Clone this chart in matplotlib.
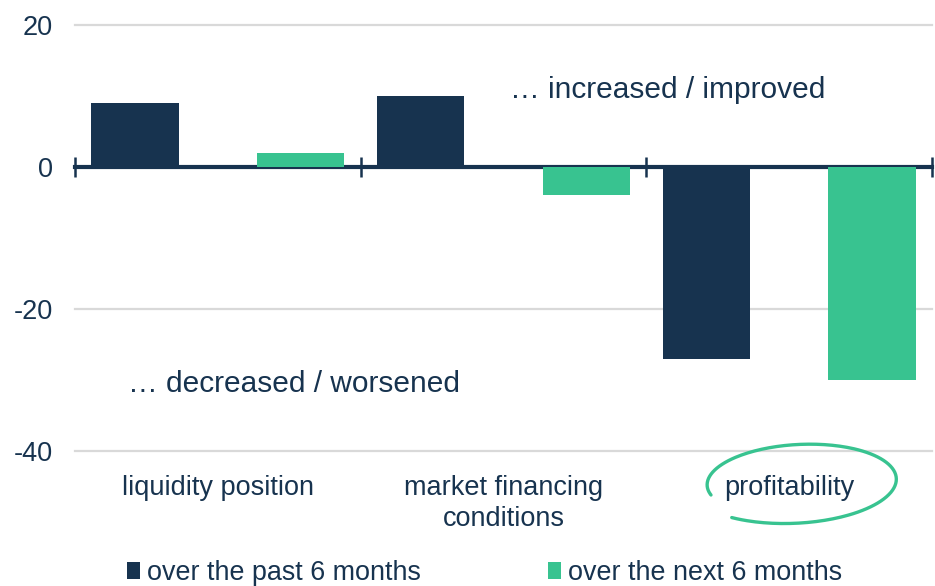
import numpy as np
import matplotlib.pyplot as plt

plt.rcParams['font.family'] = ['Liberation Sans', 'DejaVu Sans']

categories = ['liquidity position', 'market financing\nconditions', 'profitability']
past_6m = [9, 10, -27]
next_6m = [2, -4, -30]
series_labels = ['over the past 6 months', 'over the next 6 months']
y_ticks = [-40, -20, 0, 20]

NAVY = '#17334F'
GREEN = '#38C390'
GRID = '#D9D9D9'

fig = plt.figure(figsize=(9.35, 5.86), dpi=100)
ax = fig.add_axes([75 / 935, 1 - 451 / 586, 857 / 935, 426 / 586])

x = np.arange(len(categories))
width = 0.305
offset = 0.29
b1 = ax.bar(x - offset, past_6m, width, color=NAVY, label=series_labels[0], zorder=2)
b2 = ax.bar(x + offset, next_6m, width, color=GREEN, label=series_labels[1], zorder=2)

ax.set_xlim(-0.5, len(categories) - 0.5)
ax.set_ylim(-40, 20)
ax.set_yticks(y_ticks)
ax.set_yticklabels([str(v) for v in y_ticks])
for v in y_ticks:
    if v != 0:
        ax.axhline(v, color=GRID, lw=1.6, zorder=0, clip_on=False)

for s in ax.spines.values():
    s.set_visible(False)
ax.tick_params(axis='y', length=0, pad=16, labelsize=19.5, labelcolor=NAVY)
ax.set_xticks(x)
ax.set_xticklabels(categories, linespacing=1.25)
ax.tick_params(axis='x', length=0, pad=17, labelsize=19.5, labelcolor=NAVY)

# zero line with category separators
ymin, ymax = ax.get_ylim()
zero_axes = (0 - ymin) / (ymax - ymin)
sec = ax.secondary_xaxis(zero_axes)
for name in ('top', 'bottom'):
    sec.spines[name].set_color(NAVY)
    sec.spines[name].set_linewidth(3)
    sec.spines[name].set_zorder(3)
sec.set_xticks(np.arange(len(categories) + 1) - 0.5)
sec.set_xticklabels([])
sec.tick_params(axis='x', direction='inout', length=15, width=1.8, color=NAVY,
                labelbottom=False, labeltop=False)

ax.text(510 / 935, 1 - 90 / 586, '\u2026 increased / improved', transform=fig.transFigure,
        fontsize=21.5, color=NAVY, va='center', ha='left')
ax.text(128 / 935, 1 - 384 / 586, '\u2026 decreased / worsened', transform=fig.transFigure,
        fontsize=21.5, color=NAVY, va='center', ha='left')

# hand-drawn loop around "profitability"
t = np.linspace(np.radians(232), np.radians(555), 200)
shrink = np.linspace(1.0, 0.84, t.size)
cx, cy, a, b = 797, 482, 106, 42
px = cx + a * shrink * np.cos(t)
py = cy - b * shrink * np.sin(t) - 4 * np.cos(t)
fig.add_artist(plt.Line2D(px / 935, 1 - py / 586, transform=fig.transFigure,
                          color=GREEN, lw=2.4, solid_capstyle='round'))

fig.legend(handles=[b1, b2], labels=series_labels, loc='center', ncol=2,
           bbox_to_anchor=(0.5 + 17 / 935, 1 - 573 / 586), frameon=False, fontsize=19.4,
           labelcolor=NAVY, handlelength=0.48, handleheight=0.56,
           handletextpad=0.28, columnspacing=4.7)

fig.savefig('out.png', dpi=100)
